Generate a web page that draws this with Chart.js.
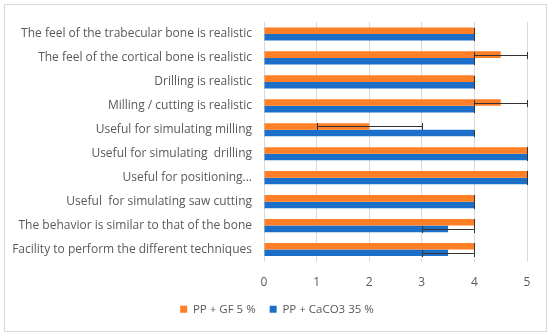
<!DOCTYPE html>
<html lang="en">
<head>
    <meta charset="UTF-8">
    <title>Bone model evaluation</title>
    <style>
        body {
            margin: 0;
            background: #fff;
        }

        .chartBox {
            position: absolute;
            left: 4px;
            top: 4px;
            width: 541px;
            height: 326px;
            border: 1px solid #d9d9d9;
        }

        canvas {
            display: block;
        }
    </style>
</head>
<body>
    <div class="chartBox">
        <canvas id="chartCanvas" width="541" height="326"></canvas>
    </div>
    <script src="https://cdn.jsdelivr.net/npm/chart.js"></script>
    <script>
        const categories = [
            "The feel of the trabecular bone is realistic",
            "The feel of the cortical bone is realistic",
            "Drilling is realistic",
            "Milling / cutting is realistic",
            "Useful for simulating milling",
            "Useful for simulating  drilling",
            "Useful for positioning...",
            "Useful  for simulating saw cutting",
            "The behavior is similar to that of the bone",
            "Facility to perform the different techniques"
        ];
        const gfValues = [4, 4.5, 4, 4.5, 2, 5, 5, 4, 4, 4];
        const gfErrors = [0, 0.5, 0, 0.5, 1, 0, 0, 0, 0, 0];
        const caco3Values = [4, 4, 4, 4, 4, 5, 5, 4, 3.5, 3.5];
        const caco3Errors = [0, 0, 0, 0, 0, 0, 0, 0, 0.5, 0.5];
        const xTicks = [0, 1, 2, 3, 4, 5];

        const textColor = "#595959";
        const fontFamily = "'Open Sans', 'Noto Sans', sans-serif";

        // draws the error whiskers on top of the bars
        const errorBars = {
            id: "errorBars",
            afterDatasetsDraw(chart) {
                const ctx = chart.ctx;
                const xScale = chart.scales.x;
                ctx.save();
                ctx.strokeStyle = "#333333";
                ctx.lineWidth = 1;
                chart.data.datasets.forEach((ds, di) => {
                    if (!ds.errors) return;
                    const meta = chart.getDatasetMeta(di);
                    meta.data.forEach((bar, i) => {
                        const err = ds.errors[i];
                        const v = ds.data[i];
                        const y = Math.round(bar.y) + 0.5;
                        const x1 = Math.round(xScale.getPixelForValue(v - err)) + 0.5;
                        const x2 = Math.round(xScale.getPixelForValue(v + err)) + 0.5;
                        ctx.beginPath();
                        ctx.moveTo(x1, y);
                        ctx.lineTo(x2, y);
                        ctx.moveTo(x1, y - 3.5);
                        ctx.lineTo(x1, y + 3.5);
                        ctx.moveTo(x2, y - 3.5);
                        ctx.lineTo(x2, y + 3.5);
                        ctx.stroke();
                    });
                });
                ctx.restore();
            }
        };

        new Chart(document.getElementById("chartCanvas"), {
            type: "bar",
            data: {
                labels: categories,
                datasets: [
                    {
                        label: "PP + GF 5 %",
                        data: gfValues,
                        errors: gfErrors,
                        backgroundColor: "#FF7F27"
                    },
                    {
                        label: "PP + CaCO3 35 %",
                        data: caco3Values,
                        errors: caco3Errors,
                        backgroundColor: "#1B6FC8"
                    }
                ]
            },
            options: {
                indexAxis: "y",
                responsive: false,
                animation: false,
                categoryPercentage: 0.55,
                barPercentage: 1,
                layout: {
                    padding: { top: 17, right: 1, bottom: 6, left: 4 }
                },
                scales: {
                    x: {
                        min: 0,
                        max: 5,
                        afterBuildTicks(scale) {
                            scale.ticks = xTicks.map(v => ({ value: v }));
                        },
                        afterFit(scale) {
                            scale.height = 28;
                        },
                        grid: { color: "#d9d9d9", drawTicks: false },
                        border: { display: false },
                        ticks: {
                            color: textColor,
                            padding: 14,
                            font: { family: fontFamily, size: 12 }
                        }
                    },
                    y: {
                        grid: { display: false },
                        border: { display: false },
                        afterFit(scale) {
                            scale.width = 255;
                        },
                        ticks: {
                            color: textColor,
                            padding: 4,
                            font: { family: fontFamily, size: 12 }
                        }
                    },
                    // empty right-hand axis, only keeps the plot off the right edge
                    spacer: {
                        type: "linear",
                        axis: "y",
                        position: "right",
                        grid: { display: false },
                        border: { display: false },
                        ticks: { display: false },
                        afterFit(scale) {
                            scale.width = 18;
                        }
                    }
                },
                plugins: {
                    legend: {
                        position: "bottom",
                        labels: {
                            color: textColor,
                            boxWidth: 7,
                            boxHeight: 7,
                            padding: 14,
                            font: { family: fontFamily, size: 11.5 }
                        }
                    },
                    tooltip: { enabled: false }
                }
            },
            plugins: [errorBars]
        });
    </script>
</body>
</html>
